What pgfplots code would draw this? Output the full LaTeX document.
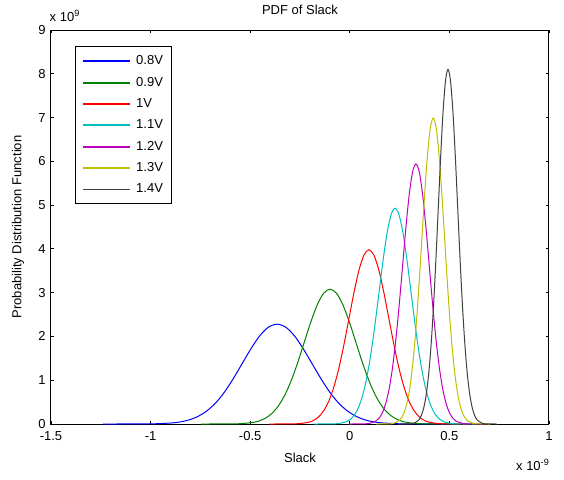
\documentclass[border=0pt]{standalone}
\usepackage{pgfplots}
\pgfplotsset{compat=1.18}
\usepackage{fontspec}
\setmainfont{Liberation Sans}

\definecolor{mblue}{rgb}{0,0,1}
\definecolor{mgreen}{rgb}{0,0.5,0}
\definecolor{mred}{rgb}{1,0,0}
\definecolor{mcyan}{rgb}{0,0.75,0.75}
\definecolor{mmag}{rgb}{0.75,0,0.75}
\definecolor{myel}{rgb}{0.75,0.75,0}
\definecolor{mblack}{rgb}{0.25,0.25,0.25}

\begin{document}
\fontsize{6.5}{7.8}\selectfont
\begin{tikzpicture}
\begin{axis}[
    scale only axis,
    width=249pt, height=197pt,
    xmin=-1.5, xmax=1, ymin=0, ymax=9,
    xtick={-1.5,-1,-0.5,0,0.5,1},
    xticklabels={-1.5,-1,-0.5,0,0.5,1},
    ytick={0,1,...,9},
    yticklabels={0,1,2,3,4,5,6,7,8,9},
    tick align=inside,
    major tick length=1.6pt,
    tick style={black, line width=0.4pt},
    axis line style={line width=0.5pt},
    tick label style={font=\fontsize{6.5}{7.8}\selectfont},
    xticklabel style={yshift=-1.5pt},
    yticklabel style={xshift=-0.3pt},
    every axis plot/.append style={line width=0.5pt, smooth},
    legend style={
        at={(0.048,0.959)}, anchor=north west,
        font=\fontsize{6.5}{7.8}\selectfont,
        draw=black, line width=0.5pt,
        inner xsep=3.5pt, inner ysep=3.5pt,
        row sep=3.2pt,
        nodes={inner sep=1pt},
    },
    legend cell align=left,
    legend image code/.code={\draw[#1, line width=0.9pt] (0pt,0pt) -- (23.5pt,0pt);},
    /tikz/every odd column/.append style={column sep=1.5pt},
]
% 0.8V
\addplot[mblue] coordinates {
(-1.24,0)(-1.065,0.00076)(-0.9775,0.0050)(-0.89,0.0253)(-0.846,0.052)(-0.8025,0.100)
(-0.759,0.1815)(-0.715,0.3085)(-0.671,0.493)(-0.6275,0.740)(-0.584,1.044)(-0.54,1.383)
(-0.496,1.721)(-0.4525,2.012)(-0.409,2.210)(-0.365,2.28)(-0.321,2.210)(-0.2775,2.012)
(-0.234,1.721)(-0.19,1.383)(-0.146,1.044)(-0.1025,0.740)(-0.059,0.493)(-0.015,0.3085)
(0.029,0.1815)(0.0725,0.100)(0.116,0.052)(0.16,0.0253)(0.2475,0.0050)(0.335,0.00076)(0.51,0)
};
\addlegendentry{0.8V}
% 0.9V
\addplot[mgreen] coordinates {
(-0.7465,0)(-0.617,0.00103)(-0.5523,0.0068)(-0.4875,0.0342)(-0.4551,0.070)(-0.4228,0.135)
(-0.3904,0.245)(-0.358,0.417)(-0.3256,0.666)(-0.2933,1.000)(-0.2609,1.410)(-0.2285,1.868)
(-0.1961,2.325)(-0.1638,2.718)(-0.1314,2.985)(-0.099,3.08)(-0.0666,2.985)(-0.0342,2.718)
(-0.0019,2.325)(0.0305,1.868)(0.0629,1.410)(0.0953,1.000)(0.1276,0.666)(0.16,0.417)
(0.1924,0.245)(0.2248,0.135)(0.2571,0.070)(0.2895,0.0342)(0.3543,0.0068)(0.419,0.00103)(0.5485,0)
};
\addlegendentry{0.9V}
% 1V
\addplot[mred] coordinates {
(-0.404,0)(-0.304,0.00133)(-0.254,0.0088)(-0.204,0.0442)(-0.179,0.0907)(-0.154,0.1747)
(-0.129,0.317)(-0.104,0.5385)(-0.079,0.861)(-0.054,1.292)(-0.029,1.822)(-0.004,2.414)
(0.021,3.004)(0.046,3.512)(0.071,3.857)(0.096,3.98)(0.121,3.857)(0.146,3.512)
(0.171,3.004)(0.196,2.414)(0.221,1.822)(0.246,1.292)(0.271,0.861)(0.296,0.5385)
(0.321,0.317)(0.346,0.1747)(0.371,0.0907)(0.396,0.0442)(0.446,0.0088)(0.496,0.00133)(0.596,0)
};
\addlegendentry{1V}
% 1.1V
\addplot[mcyan] coordinates {
(-0.178,0)(-0.097,0.00165)(-0.0565,0.0108)(-0.016,0.0547)(0.00425,0.1124)(0.02475,0.2164)
(0.045,0.392)(0.06525,0.667)(0.0855,1.066)(0.10575,1.601)(0.126,2.257)(0.14625,2.990)
(0.1665,3.721)(0.18675,4.351)(0.207,4.778)(0.227,4.93)(0.24725,4.778)(0.2675,4.351)
(0.28775,3.721)(0.308,2.990)(0.32825,2.257)(0.3485,1.601)(0.36875,1.066)(0.389,0.667)
(0.40925,0.392)(0.4295,0.2164)(0.44975,0.1124)(0.47,0.0547)(0.5105,0.0108)(0.551,0.00165)(0.632,0)
};
\addlegendentry{1.1V}
% 1.2V
\addplot[mmag] coordinates {
(-0.004,0)(0.0632,0.00199)(0.0968,0.0131)(0.1304,0.0659)(0.1472,0.1354)(0.164,0.261)
(0.1808,0.473)(0.1976,0.804)(0.2144,1.285)(0.2312,1.929)(0.248,2.719)(0.2648,3.603)
(0.2816,4.484)(0.2984,5.242)(0.3152,5.757)(0.332,5.94)(0.3488,5.757)(0.3656,5.242)
(0.3824,4.484)(0.3992,3.603)(0.416,2.719)(0.4328,1.929)(0.4496,1.285)(0.4664,0.804)
(0.4832,0.473)(0.5,0.261)(0.5168,0.1354)(0.5336,0.0659)(0.5672,0.0131)(0.6008,0.00199)(0.668,0)
};
\addlegendentry{1.2V}
% 1.3V
\addplot[myel] coordinates {
(0.134,0)(0.191,0.00234)(0.2195,0.0154)(0.248,0.0776)(0.26225,0.1594)(0.2765,0.307)
(0.29075,0.556)(0.305,0.946)(0.31925,1.512)(0.3335,2.270)(0.34775,3.200)(0.362,4.239)
(0.37625,5.276)(0.3905,6.169)(0.40475,6.775)(0.419,6.99)(0.43325,6.775)(0.4475,6.169)
(0.46175,5.276)(0.476,4.239)(0.49025,3.200)(0.5045,2.270)(0.51875,1.512)(0.533,0.946)
(0.54725,0.556)(0.5615,0.307)(0.57575,0.1594)(0.59,0.0776)(0.6185,0.0154)(0.647,0.00234)(0.704,0)
};
\addlegendentry{1.3V}
% 1.4V
\addplot[mblack] coordinates {
(0.248,0)(0.297,0.00271)(0.3215,0.0178)(0.346,0.0899)(0.35825,0.1847)(0.3705,0.356)
(0.38275,0.645)(0.395,1.096)(0.40725,1.752)(0.4195,2.630)(0.43175,3.708)(0.444,4.913)
(0.45625,6.114)(0.4685,7.148)(0.48075,7.851)(0.493,8.10)(0.50525,7.851)(0.5175,7.148)
(0.52975,6.114)(0.542,4.913)(0.55425,3.708)(0.5665,2.630)(0.57875,1.752)(0.591,1.096)
(0.60325,0.645)(0.6155,0.356)(0.62775,0.1847)(0.64,0.0899)(0.6645,0.0178)(0.689,0.00271)(0.738,0)
};
\addlegendentry{1.4V}
\end{axis}
% titles and labels
\node at (124.5pt,207pt) {PDF of Slack};
\node[rotate=90] at (-16.5pt,98.5pt) {Probability Distribution Function};
\node at (124.5pt,-17pt) {Slack};
\node at (7pt,204pt) {x 10\textsuperscript{9}};
\node at (241pt,-20.5pt) {x 10\textsuperscript{-9}};
\pgfresetboundingbox
\path (-25.5pt,-27.5pt) rectangle (256.5pt,212pt);
\end{tikzpicture}
\end{document}
